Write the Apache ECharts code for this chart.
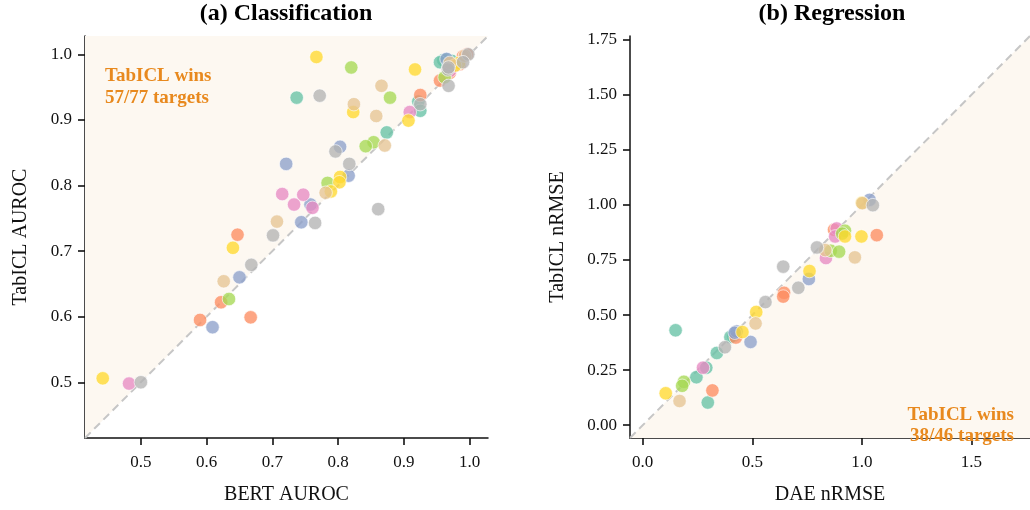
<!DOCTYPE html>
<html>
<head>
<meta charset="utf-8">
<script src="https://cdn.jsdelivr.net/npm/echarts@6/dist/echarts.min.js"></script>
<style>html,body{margin:0;padding:0;background:#fff}#c{width:1030px;height:510px}</style>
</head>
<body>
<div id="c"></div>
<script>
// ---------- data ----------
const colorNames = ['teal','orange','blue','pink','green','yellow','tan','gray'];
const palette = ['#66c2a5','#fc8d62','#8da0cb','#e78ac3','#a6d854','#ffd92f','#e5c494','#b3b3b3'];

// (a) Classification: [BERT AUROC, TabICL AUROC]
const clsTeal   = [[0.737,0.934],[0.960,0.991],[0.965,0.992],[0.973,0.990],[0.922,0.928],[0.925,0.914],[0.874,0.881],[0.955,0.988],[0.968,0.985]];
const clsOrange = [[0.996,1.0],[0.970,0.972],[0.925,0.938],[0.647,0.725],[0.622,0.622],[0.590,0.595],[0.667,0.599],[0.990,0.997],[0.985,0.985],[0.955,0.960]];
const clsBlue   = [[0.803,0.859],[0.721,0.833],[0.816,0.815],[0.758,0.771],[0.744,0.744],[0.650,0.660],[0.609,0.584],[0.965,0.993],[0.975,0.982]];
const clsPink   = [[0.909,0.912],[0.715,0.787],[0.747,0.786],[0.733,0.771],[0.761,0.766],[0.482,0.498],[0.980,0.984],[0.970,0.975]];
const clsGreen  = [[0.820,0.980],[0.879,0.934],[0.854,0.866],[0.842,0.860],[0.784,0.804],[0.634,0.627],[0.962,0.965]];
const clsYellow = [[0.767,0.996],[0.917,0.977],[0.984,0.987],[0.907,0.899],[0.823,0.912],[0.803,0.813],[0.802,0.805],[0.789,0.791],[0.640,0.705],[0.442,0.506],[0.978,0.983]];
const clsTan    = [[0.970,0.987],[0.866,0.952],[0.824,0.924],[0.858,0.906],[0.871,0.861],[0.781,0.789],[0.707,0.745],[0.626,0.654],[0.993,0.998]];
const clsGray   = [[0.772,0.937],[0.998,1.0],[0.967,0.977],[0.968,0.952],[0.925,0.924],[0.796,0.852],[0.817,0.833],[0.861,0.764],[0.765,0.743],[0.701,0.724],[0.668,0.679],[0.500,0.500],[0.968,0.980],[0.990,0.988]];

// (b) Regression: [DAE nRMSE, TabICL nRMSE]
const regTeal   = [[0.150,0.431],[0.413,0.405],[0.338,0.328],[0.290,0.261],[0.245,0.218],[0.297,0.103],[0.400,0.400]];
const regOrange = [[0.645,0.601],[0.641,0.584],[0.425,0.398],[0.318,0.158],[0.873,0.887],[1.068,0.863]];
const regBlue   = [[0.758,0.664],[0.428,0.426],[0.492,0.378],[1.035,1.023],[0.420,0.420]];
const regPink   = [[0.275,0.261],[0.885,0.893],[0.878,0.857],[0.836,0.759]];
const regGreen  = [[0.188,0.197],[0.180,0.179],[0.923,0.883],[0.858,0.792],[0.896,0.788],[0.910,0.870]];
const regYellow = [[0.761,0.700],[0.518,0.514],[0.455,0.423],[0.105,0.145],[0.923,0.857],[0.998,0.857],[1.000,1.010]];
const regTan    = [[0.515,0.462],[0.168,0.110],[1.002,1.008],[0.833,0.795],[0.968,0.762]];
const regGray   = [[0.641,0.720],[0.710,0.624],[0.560,0.559],[0.375,0.354],[1.050,0.999],[0.795,0.807]];

const clsGroups = [clsTeal, clsOrange, clsBlue, clsPink, clsGreen, clsYellow, clsTan, clsGray];
const regGroups = [regTeal, regOrange, regBlue, regPink, regGreen, regYellow, regTan, regGray];

const clsRange = [0.415, 1.028];
const regRange = [-0.058, 1.767];
const clsTicks = [0.5, 0.6, 0.7, 0.8, 0.9, 1.0];
const regXTicks = [0.0, 0.5, 1.0, 1.5];
const regYTicks = [0.0, 0.25, 0.5, 0.75, 1.0, 1.25, 1.5, 1.75];

// ---------- chart ----------
const FONT = 'Liberation Serif';
const chart = echarts.init(document.getElementById('c'), null, {renderer: 'canvas'});

function axis(gridIndex, range, ticks, fmt, name, nameGap, margin) {
  return {
    type: 'value', gridIndex, min: range[0], max: range[1],
    name, nameLocation: 'middle', nameGap,
    nameTextStyle: {fontFamily: FONT, fontSize: 20, color: '#111'},
    axisLine: {show: true, onZero: false, lineStyle: {color: '#111', width: 1.5}},
    axisTick: {show: true, inside: false, length: 7, customValues: ticks, lineStyle: {color: '#111', width: 1.6}},
    axisLabel: {show: true, margin, customValues: ticks, formatter: v => fmt(v),
      fontFamily: FONT, fontSize: 17, color: '#111'},
    splitLine: {show: false}
  };
}

const series = [];
series.push({
  type: 'line', xAxisIndex: 0, yAxisIndex: 0, silent: true, symbol: 'none', z: 1,
  data: [[clsRange[0], clsRange[0]], [clsRange[1], clsRange[1]]],
  lineStyle: {color: '#c6c6c6', width: 2, type: [8, 5]},
  areaStyle: {color: '#fdf8f1', opacity: 1, origin: 'end'}
});
series.push({
  type: 'line', xAxisIndex: 1, yAxisIndex: 1, silent: true, symbol: 'none', z: 1,
  data: [[regRange[0], regRange[0]], [regRange[1], regRange[1]]],
  lineStyle: {color: '#c6c6c6', width: 2, type: [8, 5]},
  areaStyle: {color: '#fdf8f1', opacity: 1, origin: 'start'}
});
clsGroups.forEach((g, i) => series.push({
  type: 'scatter', name: 'cls-' + colorNames[i], xAxisIndex: 0, yAxisIndex: 0, z: 3,
  data: g, symbolSize: 13.5,
  itemStyle: {color: palette[i], opacity: 0.78, borderColor: '#ffffff', borderWidth: 0.8}
}));
regGroups.forEach((g, i) => series.push({
  type: 'scatter', name: 'reg-' + colorNames[i], xAxisIndex: 1, yAxisIndex: 1, z: 3,
  data: g, symbolSize: 13.5,
  itemStyle: {color: palette[i], opacity: 0.78, borderColor: '#ffffff', borderWidth: 0.8}
}));

const f1 = v => v.toFixed(1);
const f2 = v => v.toFixed(2);

chart.setOption({
  animation: false,
  backgroundColor: '#ffffff',
  grid: [
    {left: 85, top: 36, width: 403, height: 404, containLabel: false},
    {left: 630, top: 36, width: 406, height: 404, containLabel: false}
  ],
  xAxis: [
    axis(0, clsRange, clsTicks, f1, 'BERT AUROC', 47, 16),
    axis(1, regRange, regXTicks, f1, 'DAE nRMSE', 47, 16)
  ],
  yAxis: [
    axis(0, clsRange, clsTicks, f1, 'TabICL AUROC', 54, 13),
    axis(1, regRange, regYTicks, f2, 'TabICL nRMSE', 62, 13)
  ],
  graphic: [
    {type: 'text', x: 286, y: 14, z: 10, style: {text: '(a) Classification', font: 'bold 24px "Liberation Serif"', fill: '#000', textAlign: 'center', textVerticalAlign: 'middle'}},
    {type: 'text', x: 832, y: 14, z: 10, style: {text: '(b) Regression', font: 'bold 24px "Liberation Serif"', fill: '#000', textAlign: 'center', textVerticalAlign: 'middle'}},
    {type: 'text', x: 105, y: 65, z: 10, style: {text: 'TabICL wins\n57/77 targets', font: 'bold 19px "Liberation Serif"', lineHeight: 22, fill: '#e8891e', textAlign: 'left', textVerticalAlign: 'top'}},
    {type: 'text', x: 1014, y: 405, z: 10, style: {text: 'TabICL wins\n38/46 targets', font: 'bold 19px "Liberation Serif"', lineHeight: 21, fill: '#e8891e', textAlign: 'right', textVerticalAlign: 'top'}}
  ],
  series
});
</script>
</body>
</html>
